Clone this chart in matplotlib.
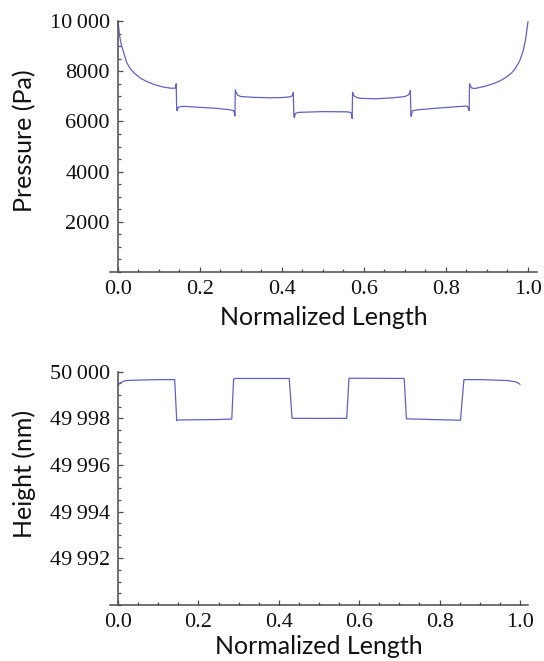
import matplotlib
matplotlib.use("Agg")
import matplotlib.pyplot as plt
from matplotlib.ticker import MultipleLocator, FixedLocator

# ---- data ----
pos_p = [0.0, 0.004, 0.008, 0.013, 0.021, 0.03, 0.04, 0.055, 0.07, 0.09, 0.11, 0.13,
         0.140, 0.1412, 0.1420, 0.1432, 0.1445, 0.1470, 0.16, 0.20, 0.24, 0.27, 0.282,
         0.2845, 0.2852, 0.2862, 0.288, 0.292, 0.30, 0.33, 0.37, 0.40, 0.42, 0.4265,
         0.4275, 0.4290, 0.4302, 0.4325, 0.44, 0.50, 0.56, 0.568, 0.5705, 0.5712,
         0.5722, 0.574, 0.578, 0.59, 0.63, 0.67, 0.70, 0.709, 0.7132, 0.7144, 0.7152,
         0.718, 0.73, 0.78, 0.83, 0.852, 0.855, 0.8565, 0.8575, 0.859, 0.863, 0.87,
         0.89, 0.91, 0.93, 0.945, 0.96, 0.97, 0.98, 0.988, 0.994, 1.0]
pressure = [10000, 9400, 9050, 8800, 8350, 8100, 7920, 7720, 7590, 7460, 7370, 7320,
            7330, 7420, 7500, 6450, 6430, 6570, 6600, 6560, 6520, 6470, 6430,
            6300, 6220, 7250, 7160, 7040, 6990, 6960, 6940, 6950, 6980, 7040,
            7150, 6200, 6160, 6320, 6360, 6390, 6380, 6350, 6200, 6120,
            7160, 7060, 6980, 6920, 6900, 6940, 6990, 7060, 7230, 6230, 6200,
            6420, 6460, 6530, 6590, 6610, 6520, 6430, 7500, 7420, 7330, 7310,
            7380, 7470, 7600, 7740, 7930, 8130, 8420, 8800, 9250, 9970]

pos_h = [0.0, 0.005, 0.012, 0.02, 0.05, 0.10, 0.141, 0.146, 0.15, 0.20, 0.25, 0.283,
         0.2875, 0.292, 0.426, 0.433, 0.50, 0.569, 0.5745, 0.712, 0.7175, 0.78, 0.852,
         0.8605, 0.90, 0.94, 0.97, 0.988, 0.995, 1.0]
height = [49999.42, 49999.52, 49999.58, 49999.62, 49999.64, 49999.66, 49999.66,
          49997.90, 49997.93, 49997.94, 49997.95, 49997.97,
          49999.68, 49999.71, 49999.71, 49998.00, 49998.00, 49998.00, 49999.72,
          49999.71, 49997.98, 49997.95, 49997.92,
          49999.66, 49999.66, 49999.64, 49999.62, 49999.57, 49999.52, 49999.46]

x_ticks = [0.0, 0.2, 0.4, 0.6, 0.8, 1.0]
x_ticklabels = ["0.0", "0.2", "0.4", "0.6", "0.8", "1.0"]
p_ticks = [2000, 4000, 6000, 8000, 10000]
p_ticklabels = ["2000", "4000", "6000", "8000", "10\u2009000"]
h_ticks = [49992, 49994, 49996, 49998, 50000]
h_ticklabels = ["49\u2009992", "49\u2009994", "49\u2009996", "49\u2009998", "50\u2009000"]

# ---- style ----
W, H = 544, 661
line_color = "#5f62c4"
axis_color = "#4a4a4a"
tick_font = ["Liberation Serif", "DejaVu Serif"]
label_font = ["Lato", "DejaVu Sans"]

fig = plt.figure(figsize=(W / 100, H / 100), dpi=100)


def frac(l, r, t, b):
    return [l / W, 1 - b / H, (r - l) / W, (b - t) / H]


def style(ax, xlim, ylim, yticks, yticklabels, yminor):
    ax.set_xlim(*xlim)
    ax.set_ylim(*ylim)
    for s in ("top", "right"):
        ax.spines[s].set_visible(False)
    ax.spines["left"].set_position(("data", 0))
    for s in ("left", "bottom"):
        ax.spines[s].set_color(axis_color)
        ax.spines[s].set_linewidth(1.1)
    ax.set_xticks(x_ticks)
    ax.set_xticklabels(x_ticklabels)
    ax.xaxis.set_minor_locator(FixedLocator([i * 0.05 for i in range(21) if i % 4]))
    ax.set_yticks(yticks)
    ax.set_yticklabels(yticklabels)
    ax.yaxis.set_minor_locator(MultipleLocator(yminor))
    ax.tick_params(which="both", direction="in", color=axis_color, width=0.9)
    ax.tick_params(which="major", length=3.5)
    ax.tick_params(which="minor", length=2)
    ax.tick_params(axis="x", which="major", pad=6)
    ax.tick_params(axis="y", which="major", pad=6)
    for lab in ax.get_xticklabels() + ax.get_yticklabels():
        lab.set_fontfamily(tick_font)
        lab.set_fontsize(16)
        lab.set_color("#111111")
    ax.set_xlabel("Normalized Length", family=label_font, fontsize=18, color="#111111")


# top: pressure
ax1 = fig.add_axes(frac(110, 537, 21, 272))
ax1.plot(pos_p, pressure, color=line_color, lw=0.9)
style(ax1, (-0.0195, 1.022), (0, 10000), p_ticks, p_ticklabels, 500)
ax1.xaxis.labelpad = 5
ax1.set_ylabel("Pressure (Pa)", family=label_font, fontsize=18, color="#111111")
ax1.yaxis.set_label_coords(-0.172, 0.525)

# bottom: height
ax2 = fig.add_axes(frac(110, 528, 371.7, 605))
ax2.plot(pos_h, height, color=line_color, lw=0.9)
style(ax2, (-0.02, 1.02), (49990, 50000), h_ticks, h_ticklabels, 0.5)
ax2.xaxis.labelpad = 2
ax2.set_ylabel("Height (nm)", family=label_font, fontsize=18, color="#111111")
ax2.yaxis.set_label_coords(-0.176, 0.56)

fig.savefig("out.png", dpi=100)
